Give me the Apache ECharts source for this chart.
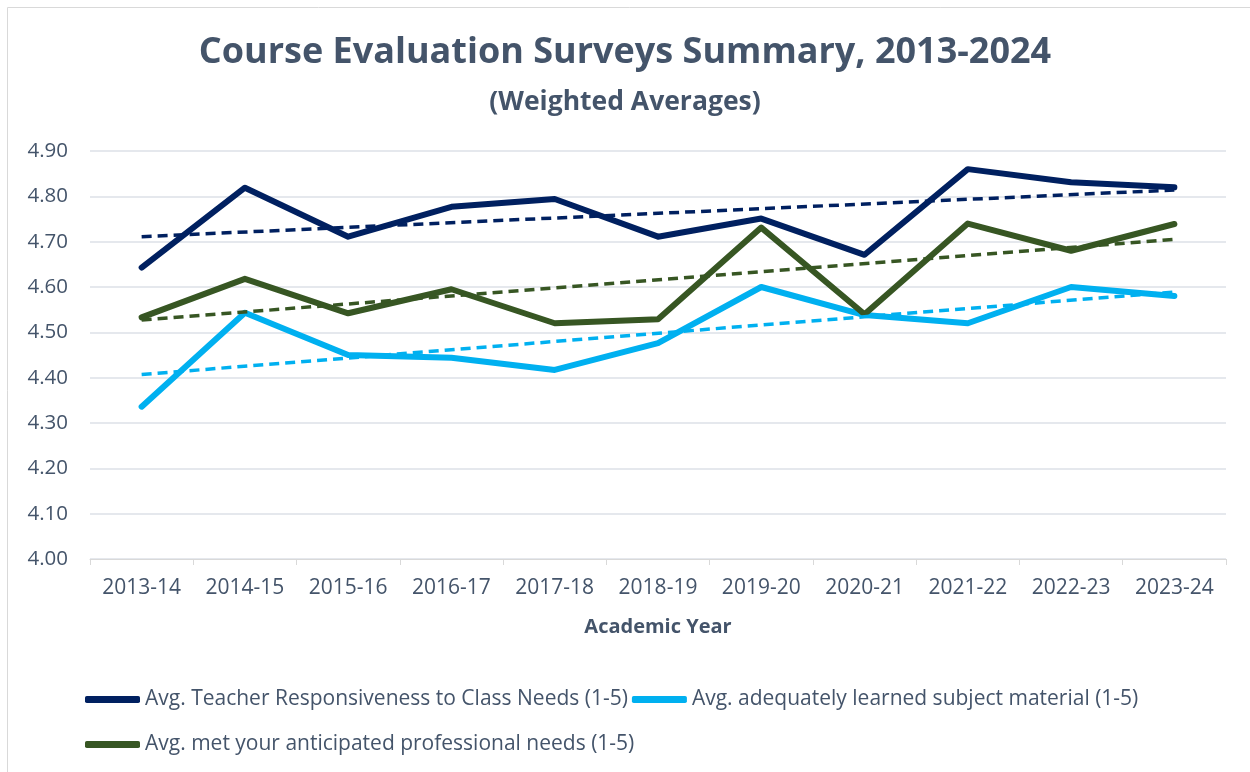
<!DOCTYPE html>
<html>
<head>
<meta charset="utf-8">
<script src="https://cdn.jsdelivr.net/npm/echarts@6/dist/echarts.min.js"></script>
<style>
  html, body { margin: 0; padding: 0; background: #fff; }
  #chart { width: 1250px; height: 772px; }
</style>
</head>
<body>
<div id="chart"></div>
<script>
// academic years on the x axis
var years = ['2013-14', '2014-15', '2015-16', '2016-17', '2017-18', '2018-19',
  '2019-20', '2020-21', '2021-22', '2022-23', '2023-24']

// weighted averages
var teacherResp = [4.643, 4.819, 4.711, 4.777, 4.794, 4.711, 4.751, 4.671, 4.860, 4.831, 4.820]
var learnedMaterial = [4.336, 4.543, 4.450, 4.444, 4.417, 4.476, 4.600, 4.538, 4.520, 4.600, 4.580]
var profNeeds = [4.533, 4.618, 4.542, 4.595, 4.520, 4.529, 4.731, 4.540, 4.740, 4.680, 4.739]

// linear trendline end values (first and last year)
var teacherTrend = [4.711, 4.814]
var learnedTrend = [4.407, 4.589]
var profTrend = [4.527, 4.705]

var yTicks = [4.0, 4.1, 4.2, 4.3, 4.4, 4.5, 4.6, 4.7, 4.8, 4.9]

var names = [
  'Avg. Teacher Responsiveness to Class Needs (1-5)',
  'Avg. adequately learned subject material (1-5)',
  'Avg. met your anticipated professional needs (1-5)'
]
var colors = ['#002060', '#00B0F0', '#375623']

var font = "'Open Sans', sans-serif"
var textColor = '#44546A'

function trendData(ends) {
  var arr = years.map(function() { return null })
  arr[0] = ends[0]
  arr[arr.length - 1] = ends[1]
  return arr
}

function mainSeries(name, data, color) {
  return {
    name: name,
    type: 'line',
    data: data,
    showSymbol: false,
    symbol: 'none',
    z: 3,
    lineStyle: { color: color, width: 6, cap: 'round', join: 'round' },
    itemStyle: { color: color }
  }
}

function trendSeries(ends, color) {
  return {
    name: 'trend',
    type: 'line',
    data: trendData(ends),
    connectNulls: true,
    showSymbol: false,
    symbol: 'none',
    silent: true,
    z: 4,
    lineStyle: { color: color, width: 3.5, type: [10, 6] }
  }
}

var chart = echarts.init(document.getElementById('chart'))
var legendText = { fontFamily: font, fontSize: 21, color: textColor }

chart.setOption({
  animation: false,
  textStyle: { fontFamily: font },
  graphic: [{
    type: 'rect',
    shape: { x: 7.5, y: 7.5, width: 1250, height: 770 },
    style: { fill: 'none', stroke: '#d9d9d9', lineWidth: 1 }
  }],
  title: [{
    text: 'Course Evaluation Surveys Summary, 2013-2024',
    left: 'center',
    top: 30,
    textStyle: { fontFamily: font, fontSize: 36, fontWeight: 'bold', color: textColor }
  }, {
    text: '(Weighted Averages)',
    left: 'center',
    top: 84,
    textStyle: { fontFamily: font, fontSize: 26.5, fontWeight: 'bold', color: textColor }
  }],
  legend: [{
    data: [names[0], names[1]],
    left: 80,
    top: 684,
    itemWidth: 55,
    itemHeight: 7,
    itemGap: 4,
    icon: 'roundRect',
    textStyle: legendText
  }, {
    data: [names[2]],
    left: 80,
    top: 729,
    itemWidth: 55,
    itemHeight: 7,
    icon: 'roundRect',
    textStyle: legendText
  }],
  grid: { left: 90, right: 24, top: 151, bottom: 213 },
  xAxis: {
    type: 'category',
    data: years,
    boundaryGap: true,
    name: 'Academic Year',
    nameLocation: 'middle',
    nameGap: 58,
    nameTextStyle: { fontFamily: font, fontSize: 20, fontWeight: 'bold', color: textColor },
    axisLine: { lineStyle: { color: '#d9d9d9', width: 1 } },
    axisTick: { show: true, length: 6, lineStyle: { color: '#d9d9d9' } },
    axisLabel: { fontFamily: font, fontSize: 21, color: textColor, margin: 19 }
  },
  yAxis: {
    type: 'value',
    min: yTicks[0],
    max: yTicks[yTicks.length - 1],
    interval: 0.1,
    axisLine: { show: false },
    axisTick: { show: false },
    splitLine: { lineStyle: { color: '#dde1e7', width: 1.5 } },
    axisLabel: {
      fontFamily: font, fontSize: 20.5, color: textColor, margin: 22,
      formatter: function(v) { return v.toFixed(2) }
    }
  },
  series: [
    mainSeries(names[0], teacherResp, colors[0]),
    mainSeries(names[1], learnedMaterial, colors[1]),
    mainSeries(names[2], profNeeds, colors[2]),
    trendSeries(teacherTrend, colors[0]),
    trendSeries(learnedTrend, colors[1]),
    trendSeries(profTrend, colors[2])
  ]
})
</script>
</body>
</html>
